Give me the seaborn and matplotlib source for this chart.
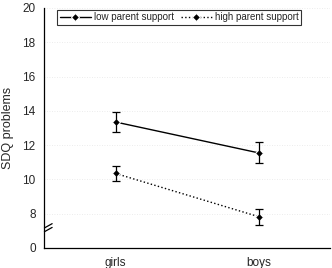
import matplotlib
matplotlib.use("Agg")
import matplotlib.pyplot as plt
import seaborn as sns
import pandas as pd
import numpy as np

genders = ["girls", "boys"]
low_support = [13.35, 11.55]
low_se = [0.57, 0.62]
high_support = [10.35, 7.83]
high_se = [0.45, 0.47]
series_names = ["low parent support", "high parent support"]
y_ticks = [6, 8, 10, 12, 14, 16, 18, 20]
y_tick_labels = ["0", "8", "10", "12", "14", "16", "18", "20"]

sns.set_style("white")
plt.rcParams["font.family"] = ["Liberation Sans", "DejaVu Sans"]

df = pd.DataFrame({
    "gender": genders * 2,
    "sdq": low_support + high_support,
    "se": low_se + high_se,
    "group": [series_names[0]] * 2 + [series_names[1]] * 2,
})

fig = plt.figure(figsize=(3.32, 2.68), dpi=100)
ax = fig.add_axes([44 / 332, 1 - 248 / 268, 286 / 332, 240 / 268])

styles = {series_names[0]: "-", series_names[1]: ":"}
for name in series_names:
    sub = df[df["group"] == name]
    sns.lineplot(data=sub, x="gender", y="sdq", ax=ax, color="black",
                 linestyle=styles[name], marker="D", markersize=4.5,
                 linewidth=1.0, label=name, sort=False)
    xs = [genders.index(g) for g in sub["gender"]]
    ax.errorbar(xs, sub["sdq"], yerr=sub["se"], fmt="none", ecolor="black",
                elinewidth=0.9, capsize=3, capthick=0.9)

ax.set_xlim(-0.5, 1.5)
ax.set_ylim(6, 20)
ax.set_yticks(y_ticks)
ax.set_yticklabels(y_tick_labels)
ax.set_xticks([0, 1])
ax.set_xticklabels(genders)
ax.set_xticks([-0.5, 0.5, 1.5], minor=True)
ax.tick_params(axis="x", which="major", length=0, pad=6.5, labelsize=8.5)
ax.tick_params(axis="x", which="minor", length=4, width=0.8, direction="out", color="black")
ax.tick_params(axis="y", length=4, width=0.8, direction="out", color="black", labelsize=8.5, pad=2)
ax.set_xlabel("")
ax.set_ylabel("SDQ problems", fontsize=9, labelpad=6)

for s in ["top", "right"]:
    ax.spines[s].set_visible(False)
for s in ["left", "bottom"]:
    ax.spines[s].set_color("black")
    ax.spines[s].set_linewidth(0.9)

for yv in y_ticks:
    ax.axhline(yv, color="#e6e6e6", linestyle=(0, (1, 2)), linewidth=0.6, zorder=0)

# axis break marks
for dy in (0, 0.22):
    ax.plot([-0.497, -0.443], [6.95 + dy, 7.2 + dy], color="black", linewidth=0.9,
            clip_on=False, transform=ax.transData)

leg = ax.legend(loc="upper left", bbox_to_anchor=(0.04, 1.0), ncol=2, fontsize=7,
                frameon=True, fancybox=False, edgecolor="black", handlelength=3.2,
                columnspacing=0.7, borderpad=0.25, handletextpad=0.3, borderaxespad=0.2)
leg.get_frame().set_linewidth(0.8)

fig.savefig("out.png", dpi=100)
